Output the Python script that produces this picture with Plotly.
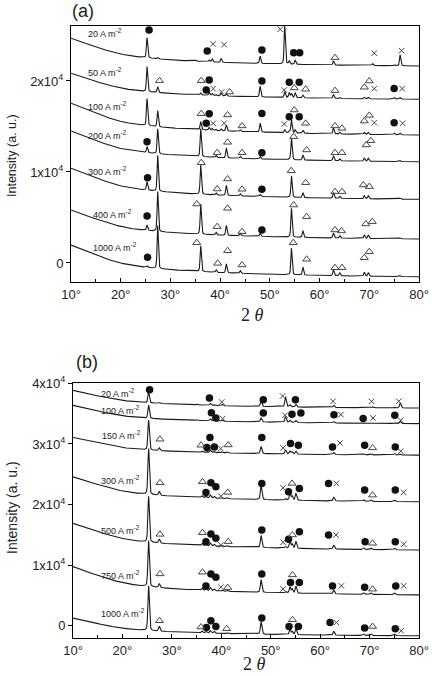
import numpy as np
import plotly.graph_objects as go

# ---------------- DATA ----------------
ANGLE_STEP = 0.02
# common decaying background shape (fraction of each trace's low-angle excess)
BG_ANGLE = [10, 12, 14, 16, 18, 20, 22.5, 25, 28, 32, 40, 50, 60, 70, 80]
BG_FRACTION = [1.0, 0.87, 0.75, 0.63, 0.52, 0.43, 0.35, 0.30, 0.25, 0.20, 0.13, 0.08, 0.04, 0.015, 0.0]

# ---- panel (a) ----
LABELS_A = ["20", "50", "100", "200", "300", "400", "1000"]
BASE_A = [21650, 17990, 14070, 11130, 7000, 2640, -1510]
BGAMP_A = [3040, 2860, 3480, 3370, 3410, 3190, 3480]
POS_A = [25.3, 27.45, 35.1, 36.1, 37.8, 38.4, 39.2, 40.2, 41.25, 44.05, 48.05,
         53.0, 53.9, 54.35, 55.1, 56.65, 62.8, 64.05, 69.0, 69.8, 70.7, 75.05, 76.2]
H_A_20 = [2200, 150, 110, 0, 200, 330, 0, 440, 0, 0, 800, 4180, 330, 0, 440, 0, 440, 0, 0, 0, 220, 110, 1210]
H_A_50 = [2750, 630, 0, 220, 330, 220, 110, 330, 220, 0, 1180, 660, 550, 440, 550, 300, 440, 110, 165, 165, 0, 165, 165]
H_A_100 = [2970, 1760, 0, 880, 330, 220, 110, 220, 660, 165, 990, 330, 220, 1430, 330, 330, 630, 220, 220, 220, 0, 165, 165]
H_A_200 = [660, 2750, 0, 3080, 0, 0, 220, 0, 1100, 220, 250, 0, 0, 2390, 0, 550, 550, 220, 330, 330, 0, 0, 110]
H_A_300 = [920, 3960, 0, 3200, 0, 0, 220, 0, 1100, 220, 220, 0, 0, 2350, 0, 550, 620, 220, 330, 330, 0, 0, 110]
H_A_400 = [550, 4400, 0, 3300, 0, 0, 275, 0, 1100, 275, 330, 0, 0, 3190, 0, 740, 550, 275, 385, 385, 0, 0, 110]
H_A_1000 = [160, 4730, 0, 2830, 0, 0, 275, 0, 990, 275, 0, 0, 0, 2930, 0, 880, 660, 330, 440, 385, 0, 0, 110]
HEIGHTS_A = [H_A_20, H_A_50, H_A_100, H_A_200, H_A_300, H_A_400, H_A_1000]
LABEL_A_X = [13.0, 13.0, 13.0, 13.0, 13.0, 14.0, 14.0]
LABEL_A_Y = [25280, 21020, 17250, 14070, 10140, 5350, 1790]

CIRC_A_X = [25.7, 37.4, 48.4, 54.8, 56.0,
            37.8, 37.2, 48.4, 53.9, 55.9, 75.0,
            37.8, 48.4, 53.9, 55.9, 37.2, 75.0,
            25.3, 48.4, 25.4, 48.4, 25.3, 48.4, 25.4]
CIRC_A_Y = [25610, 23300, 23410, 23110, 23110,
            20110, 19010, 20000, 19860, 19860, 19160,
            16410, 16430, 16080, 16080, 15350, 15420,
            13330, 12120, 9370, 8100, 5170, 3630, 630]
TRI_A_X = [63.1,
           27.8, 36.2, 41.9, 54.9, 57.2, 63.1, 69.0, 70.0,
           36.2, 41.5, 54.9, 44.4, 57.2, 63.1, 64.5, 69.0, 70.0,
           39.4, 41.5, 44.4, 54.8, 57.4, 63.1, 64.5, 69.4, 70.3,
           36.2, 39.4, 41.5, 44.4, 54.3, 57.2, 63.1, 64.5, 68.8, 70.0,
           35.3, 39.4, 41.5, 44.4, 54.8, 57.4, 63.1, 64.4, 69.3, 70.6,
           35.3, 39.5, 41.5, 44.4, 54.7, 57.4, 63.1, 64.5, 69.0, 70.0]
TRI_A_Y = [22560,
           20030, 20030, 18790, 19230, 19090, 18940, 19310, 20000,
           16410, 16270, 16810, 15060, 15350, 15060, 14800, 15600, 16220,
           12120, 13260, 12120, 13880, 12420, 12120, 12120, 12970, 13440,
           11020, 8130, 9230, 8100, 10140, 8820, 7840, 7840, 8570, 8390,
           6480, 3990, 6010, 3440, 6370, 5090, 3630, 3520, 4290, 4540,
           2230, -40, 1350, -220, 2230, 410, -520, -520, 580, 1240]
CROSS_A_X = [38.6, 40.8, 52.1, 71.0, 76.5,
             38.6, 40.3, 52.9, 71.0, 76.6,
             38.6, 40.8, 52.9, 71.0, 76.7]
CROSS_A_Y = [24070, 23990, 25680, 23050, 23330,
             19160, 18790, 19010, 19160, 19160,
             15350, 15350, 15280, 15420, 15350]

# ---- panel (b) ----
LABELS_B = ["20", "100", "150", "300", "500", "750", "1000"]
BASE_B = [35930, 33360, 28150, 20460, 12510, 5100, -1650]
BGAMP_B = [2910, 3010, 2910, 4120, 4390, 4660, 2910]
POS_B = [25.3, 27.45, 35.1, 36.1, 36.95, 37.8, 38.55, 40.2, 41.25, 48.05,
         53.0, 53.9, 54.35, 55.1, 62.75, 68.8, 70.3, 70.7, 75.05, 76.2]
H_B_20 = [1810, 165, 165, 0, 0, 330, 165, 250, 0, 940, 1650, 330, 0, 410, 330, 0, 0, 165, 165, 820]
H_B_100 = [2140, 0, 120, 0, 0, 330, 250, 165, 0, 710, 940, 330, 0, 330, 250, 120, 120, 120, 165, 330]
H_B_150 = [4940, 440, 0, 250, 165, 410, 250, 165, 165, 1200, 660, 490, 330, 490, 330, 165, 165, 0, 250, 165]
H_B_300 = [7570, 660, 0, 330, 250, 490, 330, 165, 165, 2420, 250, 1150, 660, 1150, 660, 250, 250, 0, 250, 0]
H_B_500 = [7570, 660, 0, 330, 250, 490, 330, 165, 165, 2020, 250, 1150, 660, 1150, 660, 250, 250, 0, 250, 0]
H_B_750 = [7570, 660, 0, 330, 250, 490, 330, 165, 165, 2090, 250, 990, 660, 1150, 660, 250, 250, 0, 250, 0]
H_B_1000 = [7400, 820, 0, 330, 250, 410, 330, 0, 165, 2090, 0, 820, 490, 990, 660, 250, 250, 0, 250, 0]
HEIGHTS_B = [H_B_20, H_B_100, H_B_150, H_B_300, H_B_500, H_B_750, H_B_1000]
LABEL_B_X = [15.3, 15.3, 15.5, 15.3, 15.3, 15.3, 15.3]
LABEL_B_Y = [38470, 35550, 31440, 24030, 15800, 8390, 2090]

CIRC_B_X = [25.5, 37.6, 48.5, 55.0,
            38.0, 38.9, 48.5, 54.3, 56.1, 62.8, 68.7, 75.1,
            37.1, 37.7, 38.6, 48.2, 54.0, 55.6, 62.5, 69.0, 75.2,
            37.9, 38.9, 36.9, 48.2, 53.6, 55.8, 61.7, 69.0, 75.2,
            37.9, 38.9, 36.9, 48.2, 53.6, 55.8, 61.7, 69.1, 75.2,
            37.9, 38.9, 36.9, 48.2, 54.0, 55.8, 62.5, 69.0, 75.3,
            37.0, 37.9, 38.9, 48.2, 53.7, 55.6, 62.0, 69.0, 75.2]
CIRC_B_Y = [38960, 37580, 37310, 37310,
            35170, 34290, 35110, 34900, 35110, 34840, 34190, 34730,
            29410, 31060, 29510, 31060, 30070, 29790, 29510, 29790, 29510,
            23590, 22930, 22010, 23490, 22110, 22670, 23490, 22390, 22390,
            15140, 14440, 13880, 15800, 14270, 15520, 14980, 13880, 13880,
            8560, 8020, 6580, 8560, 7130, 7130, 6580, 6370, 6580,
            -280, 820, -120, 1270, -120, -120, 540, -380, -490]
TRI_B_X = [27.6, 35.9, 41.4, 70.6,
           27.6, 36.2, 41.3, 54.3, 70.6,
           27.6, 36.2, 41.4, 54.4, 70.6,
           27.6, 36.2, 41.3, 54.4, 70.6,
           27.5, 35.9, 41.1, 54.4, 70.6]
TRI_B_Y = [30780, 29790, 29840, 29350,
           23590, 23750, 22010, 23490, 21560,
           15090, 15360, 13880, 14980, 13610,
           8560, 8840, 6300, 8390, 6040,
           820, -210, -490, 990, -120]
CROSS_B_X = [40.1, 52.4, 62.6, 70.4, 75.9,
             40.3, 52.9, 64.2, 70.7, 76.3,
             39.9, 52.5, 64.0, 76.3,
             39.9, 52.5, 63.3, 76.9,
             39.9, 52.5, 63.2, 76.9,
             39.9, 52.5, 64.3, 76.9,
             63.3, 76.4]
CROSS_B_Y = [36920, 37910, 37040, 37040, 37040,
             34190, 34730, 34840, 34290, 33910,
             29250, 29350, 30170, 28810,
             21400, 22760, 23490, 22010,
             13330, 13780, 14980, 13450,
             6370, 6090, 6580, 6580,
             540, -820]

# ---------------- BUILD ----------------
tt = np.arange(10.0, 80.0 + 1e-9, ANGLE_STEP)


def pattern(base, amp, pos, heights, fwhm):
    y = base + amp * np.interp(tt, BG_ANGLE, BG_FRACTION)
    for p, h in zip(pos, heights):
        if h == 0:
            continue
        d = (tt - p) / fwhm
        y = y + h * (0.65 * np.exp(-4 * np.log(2) * d * d) + 0.35 / (1 + 4 * d * d))
    return y


W, H = 434, 676
LINE = "#1a1a1a"
FONT = "Liberation Sans, Arial, sans-serif"

fig = go.Figure()

for base, amp, hts in zip(BASE_A, BGAMP_A, HEIGHTS_A):
    fig.add_trace(go.Scatter(x=tt, y=pattern(base, amp, POS_A, hts, 0.3), mode="lines",
                             line=dict(color=LINE, width=1.1), xaxis="x", yaxis="y",
                             showlegend=False, hoverinfo="skip"))
for base, amp, hts in zip(BASE_B, BGAMP_B, HEIGHTS_B):
    fig.add_trace(go.Scatter(x=tt, y=pattern(base, amp, POS_B, hts, 0.35), mode="lines",
                             line=dict(color=LINE, width=1.1), xaxis="x2", yaxis="y2",
                             showlegend=False, hoverinfo="skip"))


def markers(xs, ys, xa, ya, symbol, size, color, lw, fill=None):
    m = dict(symbol=symbol, size=size, color=fill if fill else color,
             line=dict(color=color, width=lw))
    fig.add_trace(go.Scatter(x=xs, y=ys, mode="markers", marker=m, xaxis=xa, yaxis=ya,
                             showlegend=False, hoverinfo="skip"))


markers(CIRC_A_X, CIRC_A_Y, "x", "y", "circle", 7.5, "#111111", 0, fill="#111111")
markers(TRI_A_X, TRI_A_Y, "x", "y", "triangle-up-open", 7, "#444444", 1)
markers(CROSS_A_X, CROSS_A_Y, "x", "y", "x-thin-open", 5.5, "#444444", 1)
markers(CIRC_B_X, CIRC_B_Y, "x2", "y2", "circle", 7.5, "#111111", 0, fill="#111111")
markers(TRI_B_X, TRI_B_Y, "x2", "y2", "triangle-up-open", 7, "#444444", 1)
markers(CROSS_B_X, CROSS_B_Y, "x2", "y2", "x-thin-open", 5.5, "#444444", 1)

annotations = []
for lab, lx, ly in zip(LABELS_A, LABEL_A_X, LABEL_A_Y):
    annotations.append(dict(x=lx, y=ly, xref="x", yref="y", text=f"{lab} A m<sup>-2</sup>",
                            showarrow=False, xanchor="left", yanchor="middle",
                            font=dict(size=9, color="#222", family=FONT)))
for lab, lx, ly in zip(LABELS_B, LABEL_B_X, LABEL_B_Y):
    annotations.append(dict(x=lx, y=ly, xref="x2", yref="y2", text=f"{lab} A m<sup>-2</sup>",
                            showarrow=False, xanchor="left", yanchor="middle",
                            font=dict(size=9, color="#222", family=FONT)))


def px(xp, yp):
    return xp / W, 1 - yp / H


for txt, (xp, yp), size in [("(a)", (70, 11), 18), ("(b)", (74, 361.5), 18)]:
    ax, ay = px(xp, yp)
    annotations.append(dict(x=ax, y=ay, xref="paper", yref="paper", text=txt, showarrow=False,
                            xanchor="left", yanchor="middle", font=dict(size=size, color="#222", family=FONT)))
for (xp, yp), size in [((12, 156), 12.5), ((12, 508), 14)]:
    ax, ay = px(xp, yp)
    annotations.append(dict(x=ax, y=ay, xref="paper", yref="paper", text="Intensity (a. u.)",
                            showarrow=False, textangle=-90, xanchor="center", yanchor="middle",
                            font=dict(size=size, color="#222", family=FONT)))
for (xp, yp) in [(252, 315), (255, 664)]:
    ax, ay = px(xp, yp)
    annotations.append(dict(x=ax, y=ay, xref="paper", yref="paper", text="2 <i>θ</i>",
                            showarrow=False, xanchor="center", yanchor="middle",
                            font=dict(size=18, color="#222", family="Liberation Serif, serif")))

xcommon = dict(range=[10, 80], dtick=10, tick0=10, ticks="inside", ticklen=4, tickcolor="black",
               ticksuffix="°", showline=True, linecolor="black", linewidth=1, mirror=True,
               showgrid=False, zeroline=False, tickfont=dict(size=13, color="#222", family=FONT),
               minor=dict(dtick=5, ticks="inside", ticklen=3, tickcolor="black"))
ycommon = dict(ticks="outside", ticklen=4, tickcolor="black", showline=True, linecolor="black",
               linewidth=1, mirror=True, showgrid=False, zeroline=False,
               tickfont=dict(size=13, color="#222", family=FONT))

fig.update_layout(
    width=W, height=H, paper_bgcolor="white", plot_bgcolor="white",
    margin=dict(l=0, r=0, t=0, b=0, autoexpand=False),
    xaxis=dict(domain=[71 / W, 419 / W], anchor="y", **xcommon),
    yaxis=dict(domain=[1 - 282 / H, 1 - 26 / H], anchor="x", range=[-2090, 26040],
               tickvals=[0, 10000, 20000], ticktext=["0", "1x10<sup>4</sup>", "2x10<sup>4</sup>"],
               **ycommon),
    xaxis2=dict(domain=[73 / W, 419 / W], anchor="y2", **xcommon),
    yaxis2=dict(domain=[1 - 638 / H, 1 - 383 / H], anchor="x2", range=[-2020, 40060],
                tickvals=[0, 10000, 20000, 30000, 40000],
                ticktext=["0", "1x10<sup>4</sup>", "2x10<sup>4</sup>", "3x10<sup>4</sup>", "4x10<sup>4</sup>"],
                **ycommon),
    annotations=annotations,
)

fig.write_html("out.html")
